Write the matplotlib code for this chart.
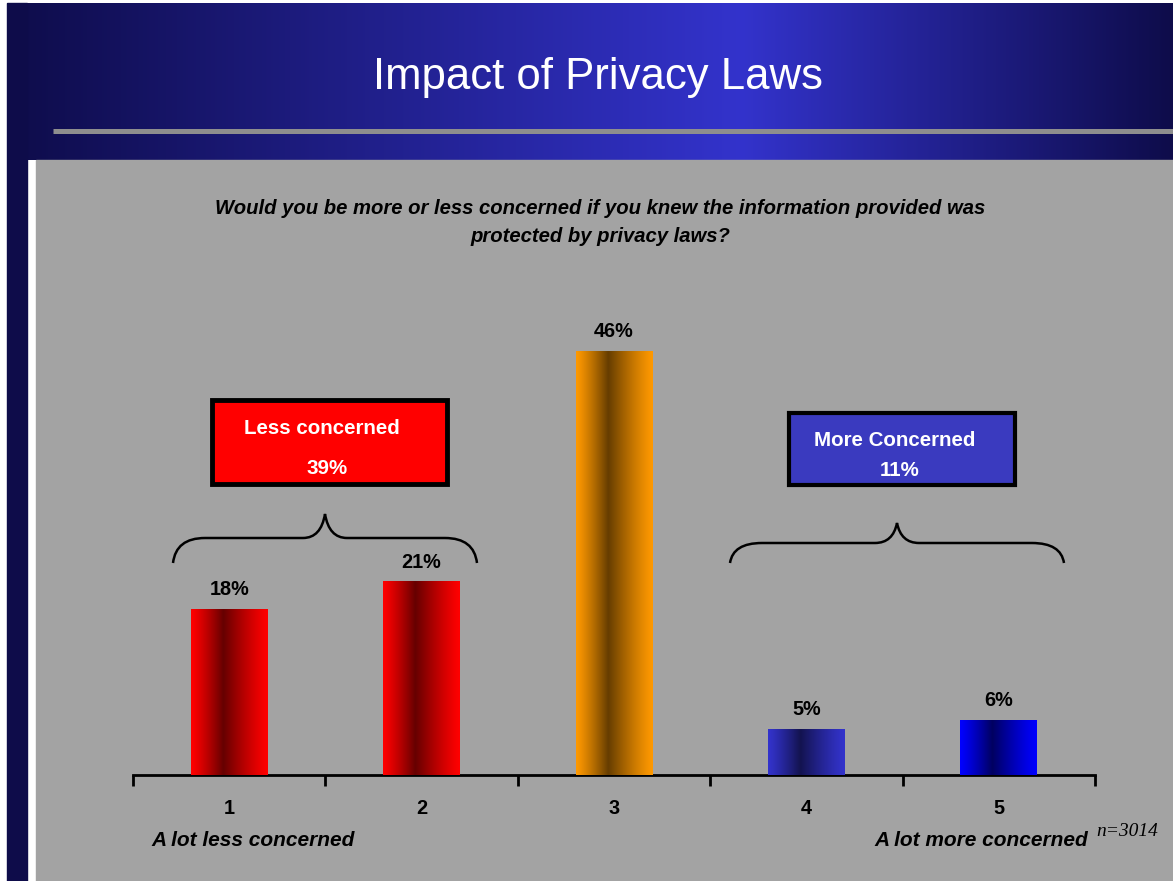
import numpy as np
import matplotlib
matplotlib.use("Agg")
import matplotlib.pyplot as plt
from matplotlib.colors import to_rgb
from matplotlib.path import Path
from matplotlib.patches import PathPatch, Rectangle

plt.rcParams["font.family"] = ["Liberation Sans", "DejaVu Sans"]

# ── Data ───────────────────────────────────────────────────
categories = ["1", "2", "3", "4", "5"]
values = [18, 21, 46, 5, 6]
edge_colors = ["#FF0000", "#FF0000", "#FF9900", "#3333CC", "#0000FF"]
mid_colors = ["#660000", "#660000", "#663D00", "#13134F", "#000060"]
less_total = 39
more_total = 11
n_resp = 3014

title = "Impact of Privacy Laws"
question = ["Would you be more or less concerned if you knew the information provided was",
            "protected by privacy laws?"]

W, H = 1173, 881
fig = plt.figure(figsize=(W / 100, H / 100), dpi=100)
fig.patch.set_facecolor("white")

# ── Background / decoration axes in pixel coords ───────────
bg = fig.add_axes([0, 0, 1, 1])
bg.set_xlim(0, W)
bg.set_ylim(H, 0)
bg.axis("off")

# header gradient
xs = np.linspace(0, 1, 600)
dark = np.array(to_rgb("#0E0C4A"))
bright = np.array(to_rgb("#3333CC"))
peak = 0.63
w = np.where(xs < peak, xs / peak, (1 - xs) / (1 - peak))
grad = dark[None, :] * (1 - w[:, None]) + bright[None, :] * w[:, None]
bg.imshow(grad[None, :, :], extent=[7, W, 160, 3], aspect="auto", zorder=1)
bg.add_patch(Rectangle((7, 3), 20, H, color="#0E0C4A", zorder=2))
bg.add_patch(Rectangle((36, 160), W - 36, H - 160, color="#A3A3A3", zorder=1))
bg.plot([53, W], [130.5, 130.5], color="#8E8E8E", lw=3.6, solid_capstyle="butt", zorder=3)
bg.set_xlim(0, W)
bg.set_ylim(H, 0)

bg.text(598, 77, title, color="white", fontsize=31.5, ha="center", va="center", zorder=4)
for i, line in enumerate(question):
    bg.text(600, 209 + 27 * i, line, fontsize=14.6, fontweight="bold", fontstyle="italic",
            ha="center", va="center", zorder=4)

# summary boxes
bg.add_patch(Rectangle((212, 400), 235, 84, facecolor="#FF0000", edgecolor="black", lw=3.5, zorder=4))
bg.text(322, 429, "Less concerned", color="white", fontsize=14.8, fontweight="bold",
        ha="center", va="center", zorder=5)
bg.text(327, 469, f"{less_total}%", color="white", fontsize=14.8, fontweight="bold",
        ha="center", va="center", zorder=5)
bg.add_patch(Rectangle((789, 413), 226, 72, facecolor="#3A3ABF", edgecolor="black", lw=3, zorder=4))
bg.text(895, 441, "More Concerned", color="white", fontsize=14.8, fontweight="bold",
        ha="center", va="center", zorder=5)
bg.text(900, 470, f"{more_total}%", color="white", fontsize=14.8, fontweight="bold",
        ha="center", va="center", zorder=5)


def brace(ax, x0, x1, xm, y_end, y_line, y_peak):
    verts = [(x0, y_end), (x0 + 3, y_line), (x0 + 32, y_line),
             (xm - 22, y_line),
             (xm - 4, y_line), (xm, y_peak),
             (xm + 4, y_line), (xm + 22, y_line),
             (x1 - 32, y_line),
             (x1 - 3, y_line), (x1, y_end)]
    codes = [Path.MOVETO, Path.CURVE3, Path.CURVE3,
             Path.LINETO,
             Path.CURVE3, Path.CURVE3,
             Path.CURVE3, Path.CURVE3,
             Path.LINETO,
             Path.CURVE3, Path.CURVE3]
    ax.add_patch(PathPatch(Path(verts, codes), facecolor="none", edgecolor="black",
                           lw=1.8, zorder=4))


brace(bg, 173, 477, 325, 563, 538, 514)
brace(bg, 730, 1064, 897, 563, 543, 523)

bg.text(253, 840, "A lot less concerned", fontsize=15, fontweight="bold",
        fontstyle="italic", ha="center", va="center", zorder=4)
bg.text(981, 840, "A lot more concerned", fontsize=15, fontweight="bold",
        fontstyle="italic", ha="center", va="center", zorder=4)
bg.text(1096, 832, f"n={n_resp}", fontsize=14, fontstyle="italic",
        family=["Liberation Serif", "DejaVu Serif"], ha="left", va="center", zorder=4)

# ── Bar chart ──────────────────────────────────────────────
px_per_pct = (775 - 351) / 46.0
ax = fig.add_axes([133 / W, 1 - 775 / H, (1095 - 133) / W, (775 - 160) / H])
ax.patch.set_alpha(0)
x = np.arange(1, len(categories) + 1)
bars = ax.bar(x, values, width=0.4, color=edge_colors, zorder=2)

t = np.linspace(0, 1, 200)
prof = np.where(t < 0.42, t / 0.42, (1 - t) / 0.58) ** 1.2
for b, ec, mc in zip(bars, edge_colors, mid_colors):
    e = np.array(to_rgb(ec))
    m = np.array(to_rgb(mc))
    g = e[None, :] * (1 - prof[:, None]) + m[None, :] * prof[:, None]
    im = ax.imshow(g[None, :, :], extent=[b.get_x(), b.get_x() + b.get_width(), 0, b.get_height()],
                   aspect="auto", zorder=3)
    im.set_clip_path(b)
    ax.annotate(f"{int(b.get_height())}%", (b.get_x() + b.get_width() / 2, b.get_height()),
                xytext=(0, 7), textcoords="offset points", ha="center", va="bottom",
                fontsize=14.3, fontweight="bold", zorder=4)

ax.set_xlim(0.5, len(categories) + 0.5)
ax.set_ylim(0, (775 - 160) / px_per_pct)
for s in ["top", "right", "left"]:
    ax.spines[s].set_visible(False)
ax.spines["bottom"].set_linewidth(2)
ax.set_yticks([])
ax.set_xticks(x)
ax.set_xticklabels(categories, fontsize=14.3, fontweight="bold")
ax.tick_params(axis="x", which="major", length=0, pad=17)
ax.set_xticks(np.arange(0.5, len(categories) + 1), minor=True)
ax.tick_params(axis="x", which="minor", length=8, width=2, direction="out")

fig.savefig("out.png", dpi=100)
